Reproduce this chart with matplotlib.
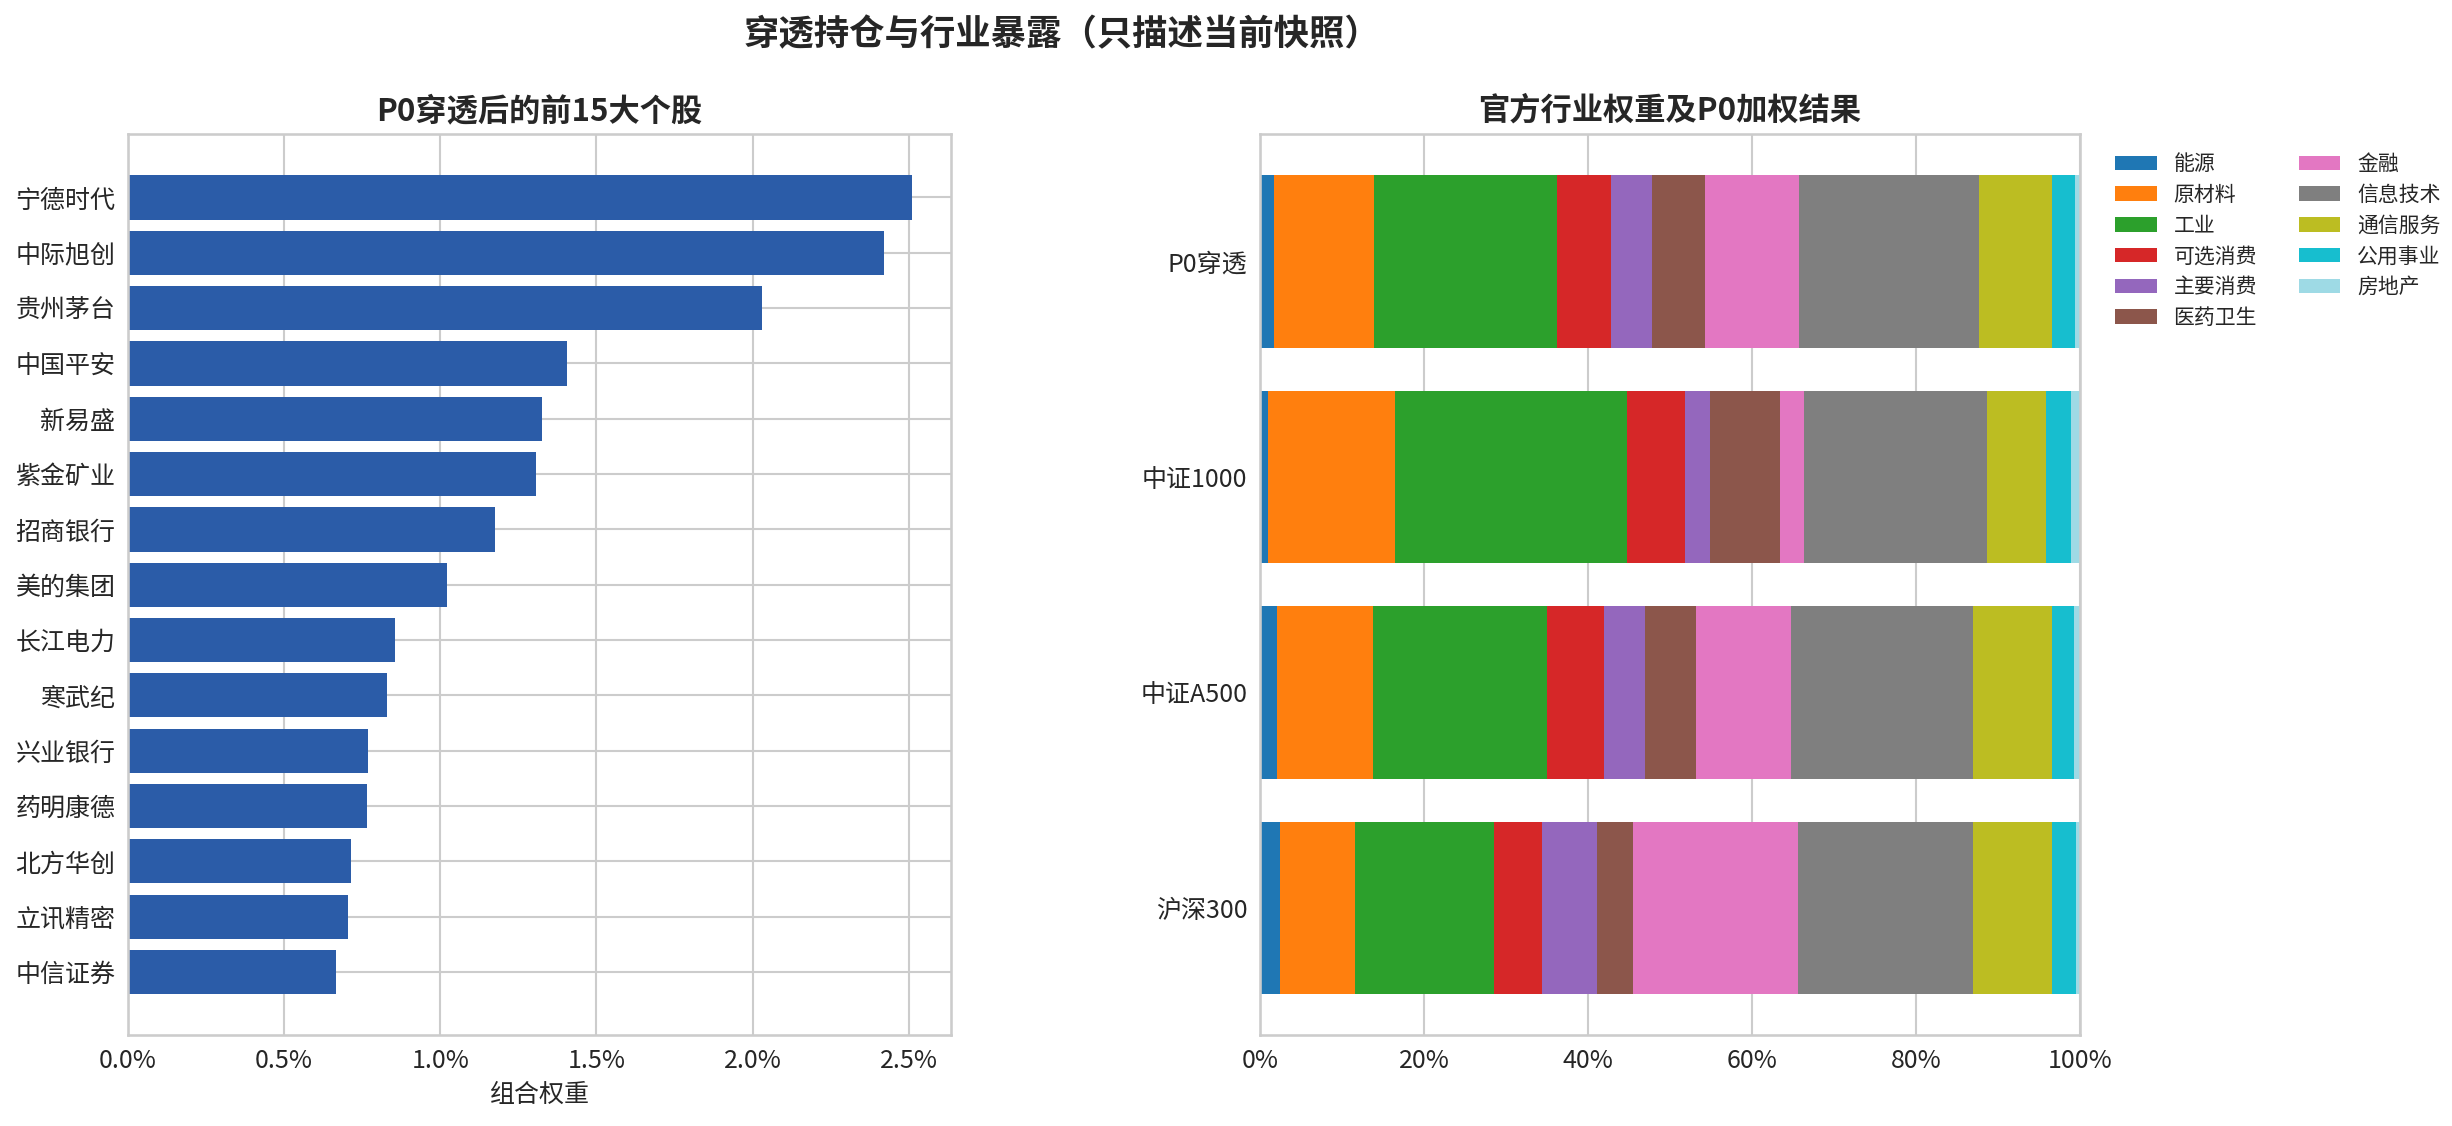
import numpy as np
import matplotlib.pyplot as plt
from matplotlib.ticker import PercentFormatter

plt.rcParams['font.family'] = ['Noto Sans CJK SC', 'DejaVu Sans']
plt.rcParams['axes.unicode_minus'] = False

# 前15大个股（组合权重，%）
stocks = ['宁德时代', '中际旭创', '贵州茅台', '中国平安', '新易盛', '紫金矿业', '招商银行',
          '美的集团', '长江电力', '寒武纪', '兴业银行', '药明康德', '北方华创', '立讯精密', '中信证券']
stock_weights = [2.51, 2.42, 2.03, 1.405, 1.325, 1.305, 1.175,
                 1.02, 0.855, 0.83, 0.77, 0.765, 0.715, 0.705, 0.665]

# 行业权重（%）
sectors = ['能源', '原材料', '工业', '可选消费', '主要消费', '医药卫生',
           '金融', '信息技术', '通信服务', '公用事业', '房地产']
portfolios = ['P0穿透', '中证1000', '中证A500', '沪深300']
w_p0 = [1.7, 12.2, 22.3, 6.6, 5.0, 6.4, 11.5, 22.0, 8.9, 2.8, 0.6]
w_zz1000 = [1.0, 15.5, 28.3, 7.0, 3.1, 8.5, 2.9, 22.4, 7.1, 3.1, 1.1]
w_a500 = [2.0, 11.8, 21.2, 6.9, 5.0, 6.3, 11.5, 22.2, 9.7, 2.7, 0.7]
w_hs300 = [2.45, 9.1, 17.0, 5.8, 6.7, 4.4, 20.1, 21.35, 9.7, 2.9, 0.5]

sector_colors = ['#1f77b4', '#ff7f0e', '#2ca02c', '#d62728', '#9467bd', '#8c564b',
                 '#e377c2', '#7f7f7f', '#bcbd22', '#17becf', '#9edae5']

grid_c = '#cccccc'
text_c = '#262626'

fig = plt.figure(figsize=(16.347, 7.507), dpi=150)
ax1 = fig.add_axes([0.0522, 0.0808, 0.3357, 0.7998])
ax2 = fig.add_axes([0.5139, 0.0808, 0.3344, 0.7998])

for ax in (ax1, ax2):
    ax.set_axisbelow(True)
    ax.grid(True, color=grid_c, linewidth=1.0)
    for s in ax.spines.values():
        s.set_color(grid_c)
        s.set_linewidth(1.25)
    ax.tick_params(length=0, labelsize=12, colors=text_c, pad=6)

# 左图：前15大个股
ypos = np.arange(len(stocks))
ax1.barh(ypos, np.array(stock_weights) / 100, color='#2B5CA8', height=0.8)
ax1.set_yticks(ypos)
ax1.set_yticklabels(stocks)
ax1.invert_yaxis()
ax1.xaxis.set_major_formatter(PercentFormatter(1.0, decimals=1))
ax1.set_xlabel('组合权重', fontsize=12, color=text_c, labelpad=4)
ax1.set_title('P0穿透后的前15大个股', fontsize=15, fontweight='bold', color=text_c, pad=7)

# 右图：行业权重堆叠
data = np.array([w_p0, w_zz1000, w_a500, w_hs300]) / 100
data = data / data.sum(axis=1, keepdims=True)
rows = np.arange(len(portfolios))
left = np.zeros(len(portfolios))
for j, sec in enumerate(sectors):
    ax2.barh(rows, data[:, j], left=left, color=sector_colors[j], height=0.8, label=sec)
    left += data[:, j]
ax2.set_yticks(rows)
ax2.set_yticklabels(portfolios)
ax2.invert_yaxis()
ax2.set_xlim(0, 1)
ax2.xaxis.set_major_formatter(PercentFormatter(1.0, decimals=0))
ax2.set_title('官方行业权重及P0加权结果', fontsize=15, fontweight='bold', color=text_c, pad=7)
ax2.legend(loc='upper left', bbox_to_anchor=(1.02, 1.0), ncol=2, frameon=False,
           fontsize=10, handlelength=2.0, handleheight=0.7, columnspacing=2.0,
           labelspacing=0.42, labelcolor=text_c)

fig.suptitle('穿透持仓与行业暴露（只描述当前快照）', x=0.433, y=0.985,
             fontsize=17, fontweight='bold', color=text_c)

fig.savefig('out.png', dpi=150)
